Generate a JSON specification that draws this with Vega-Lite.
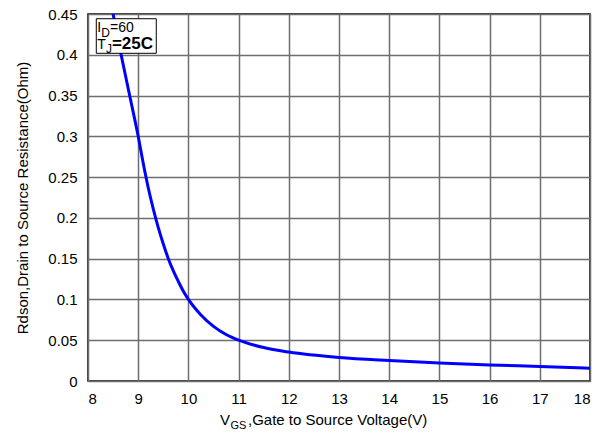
{
  "$schema": "https://vega.github.io/schema/vega-lite/v6.json",
  "width": 502,
  "height": 367,
  "autosize": {"type": "none"},
  "padding": {"left": 88, "top": 14, "right": 10, "bottom": 57},
  "background": "white",
  "config": {
    "font": "Liberation Sans",
    "view": {"stroke": "black", "strokeWidth": 1.5},
    "axis": {
      "grid": true,
      "gridColor": "#6e6e6e",
      "gridWidth": 1.5,
      "gridOpacity": 1,
      "domain": false,
      "ticks": false,
      "labelFont": "Liberation Sans",
      "labelFontSize": 15,
      "labelColor": "black",
      "titleFont": "Liberation Sans",
      "titleFontSize": 15,
      "titleFontWeight": "normal",
      "titleColor": "black"
    }
  },
  "layer": [
    {
      "data": {
        "values": [
          {"vgs": 8.50, "rdson": 0.45},
          {"vgs": 8.66, "rdson": 0.40},
          {"vgs": 8.83, "rdson": 0.35},
          {"vgs": 9.00, "rdson": 0.30},
          {"vgs": 9.10, "rdson": 0.267},
          {"vgs": 9.20, "rdson": 0.237},
          {"vgs": 9.30, "rdson": 0.211},
          {"vgs": 9.40, "rdson": 0.188},
          {"vgs": 9.50, "rdson": 0.168},
          {"vgs": 9.60, "rdson": 0.150},
          {"vgs": 9.70, "rdson": 0.135},
          {"vgs": 9.80, "rdson": 0.122},
          {"vgs": 9.90, "rdson": 0.110},
          {"vgs": 10.0, "rdson": 0.100},
          {"vgs": 10.25, "rdson": 0.081},
          {"vgs": 10.5, "rdson": 0.067},
          {"vgs": 10.75, "rdson": 0.057},
          {"vgs": 11.0, "rdson": 0.050},
          {"vgs": 11.5, "rdson": 0.041},
          {"vgs": 12.0, "rdson": 0.0355},
          {"vgs": 13.0, "rdson": 0.0288},
          {"vgs": 14.0, "rdson": 0.025},
          {"vgs": 15.0, "rdson": 0.022},
          {"vgs": 16.0, "rdson": 0.0196},
          {"vgs": 17.0, "rdson": 0.0178},
          {"vgs": 18.0, "rdson": 0.0157}
        ]
      },
      "mark": {"type": "line", "color": "#0000ff", "strokeWidth": 3, "interpolate": "monotone", "clip": true},
      "encoding": {
        "x": {
          "field": "vgs", "type": "quantitative",
          "scale": {"domain": [8, 18], "nice": false, "zero": false},
          "axis": {"values": [8, 9, 10, 11, 12, 13, 14, 15, 16, 17, 18], "labelPadding": 10, "title": null}
        },
        "y": {
          "field": "rdson", "type": "quantitative",
          "scale": {"domain": [0, 0.45], "nice": false},
          "axis": {
            "values": [0, 0.05, 0.1, 0.15, 0.2, 0.25, 0.3, 0.35, 0.4, 0.45],
            "labelPadding": 11,
            "labelExpr": "datum.value === 0 ? '0' : format(datum.value, '.2~f')",
            "title": "Rdson,Drain to Source Resistance(Ohm)",
            "titlePadding": 17
          }
        }
      }
    },
    {
      "data": {"values": [{}]},
      "mark": {"type": "rect", "fill": "white", "stroke": "black", "strokeWidth": 1},
      "encoding": {
        "x": {"datum": 8.165},
        "x2": {"datum": 9.36},
        "y": {"datum": 0.4442},
        "y2": {"datum": 0.4018}
      }
    },
    {
      "data": {"values": [{}]},
      "mark": {"type": "text", "text": "I", "align": "left", "baseline": "alphabetic", "fontSize": 14, "color": "black"},
      "encoding": {"x": {"datum": 8.185}, "y": {"datum": 0.4276}}
    },
    {
      "data": {"values": [{}]},
      "mark": {"type": "text", "text": "D", "align": "left", "baseline": "alphabetic", "fontSize": 12, "color": "black"},
      "encoding": {"x": {"datum": 8.263}, "y": {"datum": 0.4222}}
    },
    {
      "data": {"values": [{}]},
      "mark": {"type": "text", "text": "=60", "align": "left", "baseline": "alphabetic", "fontSize": 14, "color": "black"},
      "encoding": {"x": {"datum": 8.44}, "y": {"datum": 0.4276}}
    },
    {
      "data": {"values": [{}]},
      "mark": {"type": "text", "text": "T", "align": "left", "baseline": "alphabetic", "fontSize": 14, "color": "black"},
      "encoding": {"x": {"datum": 8.185}, "y": {"datum": 0.4066}}
    },
    {
      "data": {"values": [{}]},
      "mark": {"type": "text", "text": "J", "align": "left", "baseline": "alphabetic", "fontSize": 12, "color": "black"},
      "encoding": {"x": {"datum": 8.357}, "y": {"datum": 0.4025}}
    },
    {
      "data": {"values": [{}]},
      "mark": {"type": "text", "text": "=25C", "align": "left", "baseline": "alphabetic", "fontWeight": "bold", "fontSize": 17, "color": "black"},
      "encoding": {"x": {"datum": 8.476}, "y": {"datum": 0.4066}}
    },
    {
      "data": {"values": [{}]},
      "mark": {"type": "text", "text": "V", "align": "left", "baseline": "alphabetic", "fontSize": 15, "color": "black"},
      "encoding": {"x": {"datum": 10.63}, "y": {"datum": -0.0537}}
    },
    {
      "data": {"values": [{}]},
      "mark": {"type": "text", "text": "GS", "align": "left", "baseline": "alphabetic", "fontSize": 11, "color": "black"},
      "encoding": {"x": {"datum": 10.839}, "y": {"datum": -0.0587}}
    },
    {
      "data": {"values": [{}]},
      "mark": {"type": "text", "text": ",Gate to Source Voltage(V)", "align": "left", "baseline": "alphabetic", "fontSize": 15, "color": "black"},
      "encoding": {"x": {"datum": 11.187}, "y": {"datum": -0.0537}}
    }
  ]
}
